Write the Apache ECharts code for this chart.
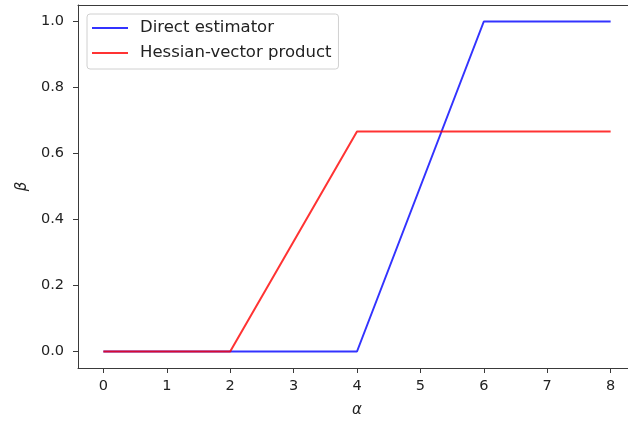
<!DOCTYPE html>
<html>
<head>
    <meta charset="utf-8"/>
    <title>beta vs alpha</title>
    <script src="https://cdn.jsdelivr.net/npm/echarts@6/dist/echarts.min.js"></script>
    <style>
        body { margin: 0; overflow: hidden; background: #fff; }
    </style>
</head>
<body>
<div id="main" style="width: 636px;height:426px;"></div>
<script type="text/javascript">
    var alphas = [0, 1, 2, 3, 4, 5, 6, 7, 8];
    var directEstimator = [0, 0, 0, 0, 0, 0.5, 1, 1, 1];
    var hessianVector = [0, 0, 0, 0.3333, 0.6667, 0.6667, 0.6667, 0.6667, 0.6667];
    var xTicks = [0, 1, 2, 3, 4, 5, 6, 7, 8];
    var yTicks = [0, 0.2, 0.4, 0.6, 0.8, 1.0];

    var font = 'DejaVu Sans';
    var axisColor = '#3a3a3a';

    function pairs(xs, ys) {
        return xs.map(function (x, i) { return [x, ys[i]]; });
    }

    var myChart = echarts.init(document.getElementById('main'));

    var option = {
        animation: false,
        textStyle: { fontFamily: font },
        grid: { left: 78, top: 5, width: 558, height: 363 },
        legend: {
            orient: 'vertical',
            left: 87,
            top: 14,
            padding: [4, 7, 6, 5],
            itemGap: 5,
            itemWidth: 36,
            itemHeight: 2,
            icon: 'rect',
            borderColor: '#d0d0d0',
            borderWidth: 1,
            borderRadius: 3,
            backgroundColor: '#fff',
            textStyle: { fontFamily: font, fontSize: 16.5, lineHeight: 20, color: '#222', padding: [0, 0, 0, 7] },
            data: ['Direct estimator', 'Hessian-vector product']
        },
        xAxis: [{
            type: 'value',
            min: -0.4,
            max: 8.4,
            name: 'α',
            nameLocation: 'middle',
            nameGap: 35,
            nameTextStyle: { fontFamily: font, fontStyle: 'italic', fontSize: 15, color: '#222' },
            axisLine: { onZero: false, lineStyle: { color: axisColor, width: 1 } },
            axisTick: { show: true, inside: false, length: 5, customValues: xTicks, lineStyle: { color: axisColor, width: 1 } },
            axisLabel: { customValues: xTicks, margin: 11, fontSize: 14.5, color: '#222' },
            splitLine: { show: false }
        }, {
            type: 'value',
            position: 'top',
            min: -0.4,
            max: 8.4,
            axisLine: { show: true, onZero: false, lineStyle: { color: axisColor, width: 1 } },
            axisTick: { show: false },
            axisLabel: { show: false },
            splitLine: { show: false }
        }],
        yAxis: {
            type: 'value',
            min: -0.05,
            max: 1.05,
            name: 'β',
            nameLocation: 'middle',
            nameGap: 48,
            nameTextStyle: { fontFamily: font, fontStyle: 'italic', fontSize: 15, color: '#222' },
            axisLine: { show: true, onZero: false, lineStyle: { color: axisColor, width: 1 } },
            axisTick: { show: true, inside: false, length: 5, customValues: yTicks, lineStyle: { color: axisColor, width: 1 } },
            axisLabel: {
                customValues: yTicks,
                margin: 14,
                fontSize: 14.5,
                color: '#222',
                formatter: function (v) { return v.toFixed(1); }
            },
            splitLine: { show: false }
        },
        series: [{
            name: 'Direct estimator',
            type: 'line',
            data: pairs(alphas, directEstimator),
            showSymbol: false,
            color: 'rgba(0,0,255,0.8)',
            lineStyle: { width: 2, color: 'rgba(0,0,255,0.8)' }
        }, {
            name: 'Hessian-vector product',
            type: 'line',
            data: pairs(alphas, hessianVector),
            showSymbol: false,
            color: 'rgba(255,0,0,0.8)',
            lineStyle: { width: 2, color: 'rgba(255,0,0,0.8)' }
        }]
    };

    myChart.setOption(option);
</script>
</body>
</html>
